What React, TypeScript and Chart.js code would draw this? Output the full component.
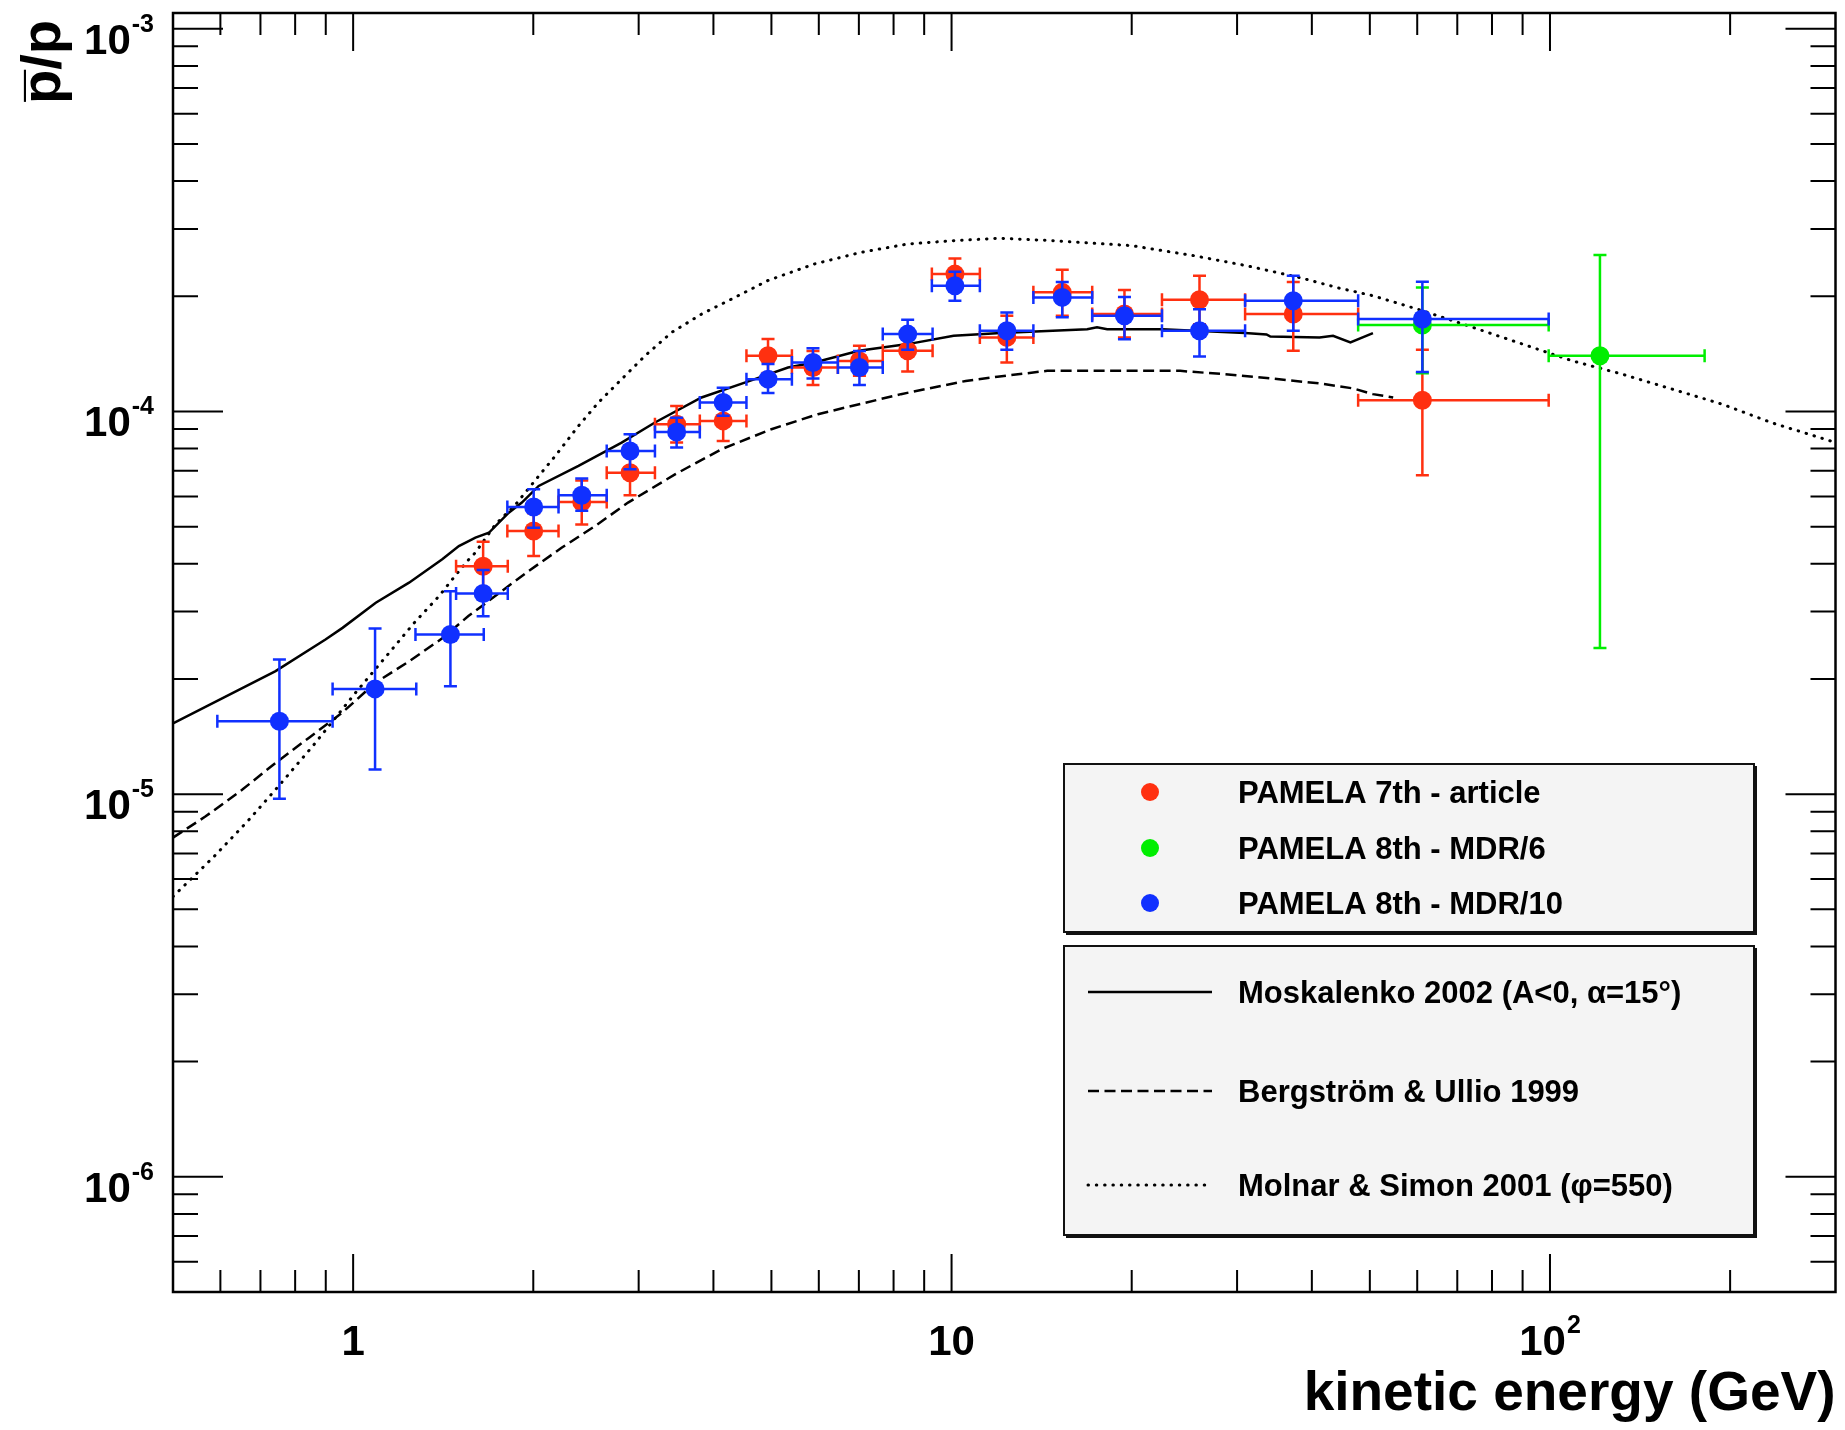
import React, { useEffect, useRef } from 'react';
import Chart from 'chart.js/auto';

// PAMELA 7th - article (kinetic energy in GeV, bin edges, ratio and its error band)
const redE = [1.649, 2.003, 2.41, 2.902, 3.472, 4.153, 4.935, 5.867, 7.015, 8.446, 10.13, 12.37, 15.31, 19.45, 25.96, 37.24, 61.2];
const redElo = [1.486, 1.81, 2.204, 2.653, 3.194, 3.796, 4.542, 5.41, 6.457, 7.674, 9.27, 11.15, 13.7, 17.18, 22.47, 30.94, 47.8];
const redEhi = [1.813, 2.204, 2.653, 3.194, 3.796, 4.542, 5.41, 6.457, 7.674, 9.296, 11.15, 13.7, 17.18, 22.47, 30.94, 47.8, 99.5];
const redY = [3.94e-5, 4.87e-5, 5.8e-5, 6.92e-5, 9.26e-5, 9.45e-5, 1.398e-4, 1.303e-4, 1.356e-4, 1.441e-4, 2.286e-4, 1.562e-4, 2.048e-4, 1.797e-4, 1.959e-4, 1.797e-4, 1.07e-4];
const redYlo = [3.45e-5, 4.19e-5, 5.07e-5, 6.04e-5, 8.3e-5, 8.37e-5, 1.26e-4, 1.172e-4, 1.24e-4, 1.272e-4, 2.08e-4, 1.343e-4, 1.78e-4, 1.56e-4, 1.69e-4, 1.441e-4, 6.81e-5];
const redYhi = [4.57e-5, 5.42e-5, 6.6e-5, 7.94e-5, 1.033e-4, 1.033e-4, 1.546e-4, 1.44e-4, 1.485e-4, 1.62e-4, 2.51e-4, 1.78e-4, 2.347e-4, 2.077e-4, 2.263e-4, 2.18e-4, 1.45e-4];

// PAMELA 8th - MDR/6
const greenE = [61.2, 121.2];
const greenElo = [47.8, 99.5];
const greenEhi = [99.5, 181.3];
const greenY = [1.683e-4, 1.398e-4];
const greenYlo = [1.259e-4, 2.408e-5];
const greenYhi = [2.109e-4, 2.566e-4];

// PAMELA 8th - MDR/10
const blueE = [0.753, 1.088, 1.454, 1.649, 2.003, 2.41, 2.902, 3.472, 4.153, 4.935, 5.867, 7.015, 8.446, 10.13, 12.37, 15.31, 19.45, 25.96, 37.24, 61.2];
const blueElo = [0.593, 0.924, 1.271, 1.486, 1.81, 2.204, 2.653, 3.194, 3.796, 4.542, 5.41, 6.457, 7.674, 9.27, 11.15, 13.7, 17.18, 22.47, 30.94, 47.8];
const blueEhi = [0.924, 1.275, 1.653, 1.813, 2.204, 2.653, 3.194, 3.796, 4.542, 5.41, 6.457, 7.674, 9.296, 11.15, 13.7, 17.18, 22.47, 30.94, 47.8, 99.5];
const blueY = [1.55e-5, 1.884e-5, 2.614e-5, 3.346e-5, 5.63e-5, 6.04e-5, 7.886e-5, 8.84e-5, 1.056e-4, 1.215e-4, 1.343e-4, 1.303e-4, 1.593e-4, 2.132e-4, 1.625e-4, 1.987e-4, 1.779e-4, 1.625e-4, 1.948e-4, 1.744e-4];
const blueYlo = [9.73e-6, 1.16e-5, 1.914e-5, 2.918e-5, 4.97e-5, 5.5e-5, 7.06e-5, 8.05e-5, 9.74e-5, 1.117e-4, 1.22e-4, 1.172e-4, 1.45e-4, 1.948e-4, 1.45e-4, 1.762e-4, 1.545e-4, 1.393e-4, 1.625e-4, 1.269e-4];
const blueYhi = [2.25e-5, 2.71e-5, 3.39e-5, 3.85e-5, 6.26e-5, 6.68e-5, 8.72e-5, 9.63e-5, 1.154e-4, 1.33e-4, 1.464e-4, 1.44e-4, 1.737e-4, 2.32e-4, 1.815e-4, 2.18e-4, 1.993e-4, 1.85e-4, 2.263e-4, 2.183e-4];

// model curves
const moskE = [0.5, 0.742, 0.899, 0.96, 1.091, 1.24, 1.409, 1.502, 1.601, 1.686, 1.82, 1.914, 2.042, 2.38, 2.81, 3.194, 3.821, 4.512, 5.33, 5.9, 7.0, 8.45, 10.08, 12.09, 16.85, 17.5, 18.2, 22.47, 30.94, 33.6, 34.1, 41.2, 43.4, 46.4, 50.6];
const moskY = [1.53e-5, 2.096e-5, 2.536e-5, 2.72e-5, 3.165e-5, 3.57e-5, 4.11e-5, 4.45e-5, 4.68e-5, 4.82e-5, 5.44e-5, 5.78e-5, 6.39e-5, 7.21e-5, 8.29e-5, 9.36e-5, 1.088e-4, 1.19e-4, 1.303e-4, 1.343e-4, 1.441e-4, 1.5e-4, 1.577e-4, 1.603e-4, 1.641e-4, 1.66e-4, 1.64e-4, 1.64e-4, 1.603e-4, 1.59e-4, 1.57e-4, 1.56e-4, 1.577e-4, 1.515e-4, 1.603e-4];
const bergE = [0.5, 0.567, 0.653, 0.742, 0.843, 0.958, 1.089, 1.238, 1.407, 1.558, 1.965, 2.233, 2.537, 2.88, 3.45, 4.126, 5.0, 5.98, 8.23, 10.56, 11.93, 14.45, 24.1, 28.5, 34.5, 41.2, 46.9, 50.6, 54.7];
const bergY = [7.7e-6, 8.75e-6, 1.028e-5, 1.207e-5, 1.403e-5, 1.631e-5, 1.954e-5, 2.22e-5, 2.55e-5, 2.92e-5, 3.83e-5, 4.41e-5, 5.02e-5, 5.78e-5, 6.85e-5, 7.97e-5, 8.99e-5, 9.84e-5, 1.11e-4, 1.202e-4, 1.233e-4, 1.277e-4, 1.277e-4, 1.252e-4, 1.218e-4, 1.184e-4, 1.149e-4, 1.11e-4, 1.088e-4];
const molE = [0.5, 0.586, 0.666, 0.742, 0.86, 1.009, 1.161, 1.264, 1.391, 1.464, 1.55, 1.601, 1.729, 1.866, 2.042, 2.176, 2.38, 2.57, 2.81, 3.074, 3.405, 3.821, 4.288, 4.935, 5.9, 7.06, 8.45, 10.08, 12.0, 14.45, 20.0, 25.4, 31.13, 38.2, 44.5, 50.6, 61.3, 74.3, 90, 109, 132, 160, 194, 235, 300];
const molY = [5.4e-6, 6.88e-6, 8.49e-6, 1.028e-5, 1.347e-5, 1.84e-5, 2.388e-5, 2.8e-5, 3.29e-5, 3.64e-5, 4.06e-5, 4.28e-5, 5.07e-5, 5.7e-5, 6.78e-5, 7.65e-5, 9.17e-5, 1.056e-4, 1.215e-4, 1.398e-4, 1.609e-4, 1.797e-4, 1.967e-4, 2.2e-4, 2.429e-4, 2.606e-4, 2.74e-4, 2.795e-4, 2.836e-4, 2.8e-4, 2.713e-4, 2.554e-4, 2.404e-4, 2.238e-4, 2.1e-4, 2.007e-4, 1.833e-4, 1.659e-4, 1.5e-4, 1.356e-4, 1.252e-4, 1.144e-4, 1.045e-4, 9.34e-5, 8.3e-5];

// axes
const xRange = [0.5, 300];
const yRange = [5e-7, 1.1e-3];
const xMajor = [1, 10, 100];
const xMajorBase = ['1', '10', '10'];
const xMajorExp = ['', '', '2'];
const yMajor = [1e-6, 1e-5, 1e-4, 1e-3];
const yMajorExp = ['-6', '-5', '-4', '-3'];

const dataLabels = ['PAMELA 7th - article', 'PAMELA 8th - MDR/6', 'PAMELA 8th - MDR/10'];
const modelLabels = ['Moskalenko 2002 (A<0, \u03b1=15\u00b0)', 'Bergstr\u00f6m & Ullio 1999', 'Molnar & Simon 2001 (\u03c6=550)'];

const RED = '#ff3010';
const GREEN = '#00ee00';
const BLUE = '#1030ff';
const FONT = '"Liberation Sans", Arial, Helvetica, sans-serif';

const points = (e: number[], lo: number[], hi: number[], y: number[], ylo: number[], yhi: number[]) =>
  e.map((x, i) => ({ x, y: y[i], xMin: lo[i], xMax: hi[i], yMin: ylo[i], yMax: yhi[i] }));

const curve = (e: number[], y: number[]) => e.map((x, i) => ({ x, y: y[i] }));

// decade minor ticks between lo and hi
const minorTicks = (lo: number, hi: number) => {
  const out: number[] = [];
  for (let d = Math.floor(Math.log10(lo)); d <= Math.ceil(Math.log10(hi)); d++) {
    for (let k = 1; k < 10; k++) {
      const v = k * Math.pow(10, d);
      if (v >= lo * 0.999 && v <= hi * 1.001) out.push(v);
    }
  }
  return out;
};

const errorBars = {
  id: 'errorBars',
  beforeDatasetDraw(chart: any, args: any) {
    const ds = chart.data.datasets[args.index];
    if (!ds.errorBars) return;
    const { ctx } = chart;
    const xs = chart.scales.x;
    const ys = chart.scales.y;
    const cap = 6.5;
    ctx.save();
    ctx.strokeStyle = ds.pointBackgroundColor;
    ctx.lineWidth = 2.5;
    ctx.beginPath();
    ds.data.forEach((p: any) => {
      const px = xs.getPixelForValue(p.x);
      const py = ys.getPixelForValue(p.y);
      const x0 = xs.getPixelForValue(p.xMin);
      const x1 = xs.getPixelForValue(p.xMax);
      const y0 = ys.getPixelForValue(p.yMin);
      const y1 = ys.getPixelForValue(p.yMax);
      ctx.moveTo(x0, py); ctx.lineTo(x1, py);
      ctx.moveTo(px, y0); ctx.lineTo(px, y1);
      ctx.moveTo(x0, py - cap); ctx.lineTo(x0, py + cap);
      ctx.moveTo(x1, py - cap); ctx.lineTo(x1, py + cap);
      ctx.moveTo(px - cap, y0); ctx.lineTo(px + cap, y0);
      ctx.moveTo(px - cap, y1); ctx.lineTo(px + cap, y1);
    });
    ctx.stroke();
    ctx.restore();
  },
};

function drawPower(ctx: CanvasRenderingContext2D, base: string, exp: string, x: number, y: number, align: 'center' | 'right') {
  ctx.font = `bold 42px ${FONT}`;
  const wb = ctx.measureText(base).width;
  ctx.font = `bold 25px ${FONT}`;
  const we = exp ? ctx.measureText(exp).width + 1 : 0;
  const x0 = align === 'center' ? x - (wb + we) / 2 : x - (wb + we);
  ctx.textAlign = 'left';
  ctx.textBaseline = 'alphabetic';
  ctx.font = `bold 42px ${FONT}`;
  ctx.fillText(base, x0, y);
  if (exp) {
    ctx.font = `bold 25px ${FONT}`;
    ctx.fillText(exp, x0 + wb + 1, y - 22);
  }
}

const rootAxes = {
  id: 'rootAxes',
  afterDatasetsDraw(chart: any) {
    const { ctx, chartArea: a } = chart;
    const xs = chart.scales.x;
    const ys = chart.scales.y;
    ctx.save();
    ctx.strokeStyle = '#000';
    ctx.lineWidth = 2;
    ctx.beginPath();
    minorTicks(xRange[0], xRange[1]).forEach((v) => {
      if (v <= xRange[0] * 1.001 || v >= xRange[1] * 0.999) return;
      const px = xs.getPixelForValue(v);
      const len = xMajor.includes(v) ? 38 : 22;
      ctx.moveTo(px, a.bottom); ctx.lineTo(px, a.bottom - len);
      ctx.moveTo(px, a.top); ctx.lineTo(px, a.top + len);
    });
    minorTicks(yRange[0], yRange[1]).forEach((v) => {
      if (v <= yRange[0] * 1.001 || v >= yRange[1] * 0.999) return;
      const py = ys.getPixelForValue(v);
      const len = yMajor.some((m) => Math.abs(m - v) / m < 1e-6) ? 50 : 25;
      ctx.moveTo(a.left, py); ctx.lineTo(a.left + len, py);
      ctx.moveTo(a.right, py); ctx.lineTo(a.right - len, py);
    });
    ctx.stroke();
    ctx.lineWidth = 2.5;
    ctx.strokeRect(a.left, a.top, a.right - a.left, a.bottom - a.top);

    ctx.fillStyle = '#000';
    xMajor.forEach((v, i) => drawPower(ctx, xMajorBase[i], xMajorExp[i], xs.getPixelForValue(v), a.bottom + 63, 'center'));
    yMajor.forEach((v, i) => drawPower(ctx, '10', yMajorExp[i], 154, ys.getPixelForValue(v) + 25, 'right'));
    ctx.restore();
  },
  afterDraw(chart: any) {
    const { ctx, chartArea: a } = chart;
    ctx.save();
    ctx.fillStyle = '#000';
    // axis titles
    ctx.font = `bold 55px ${FONT}`;
    ctx.textAlign = 'right';
    ctx.textBaseline = 'alphabetic';
    ctx.fillText('kinetic energy (GeV)', a.right, 1410);
    ctx.translate(60, 104);
    ctx.rotate(-Math.PI / 2);
    ctx.textAlign = 'left';
    ctx.font = `bold 56px ${FONT}`;
    ctx.fillText('p\u0305/p', 0, 0);
    ctx.restore();

    // legends
    const box = (x0: number, y0: number, x1: number, y1: number) => {
      ctx.fillStyle = '#f4f4f4';
      ctx.fillRect(x0, y0, x1 - x0, y1 - y0);
      ctx.strokeStyle = '#111';
      ctx.lineWidth = 2;
      ctx.strokeRect(x0, y0, x1 - x0, y1 - y0);
      ctx.beginPath();
      ctx.moveTo(x0 + 2, y1 + 2); ctx.lineTo(x1 + 2, y1 + 2); ctx.lineTo(x1 + 2, y0 + 2);
      ctx.stroke();
    };
    ctx.save();
    box(1064, 764, 1754, 932);
    box(1064, 946, 1754, 1235);
    ctx.font = `bold 31px ${FONT}`;
    ctx.textAlign = 'left';
    ctx.textBaseline = 'alphabetic';
    const rowsA = [792, 848, 903];
    dataLabels.forEach((label, i) => {
      const ds = chart.data.datasets.find((d: any) => d.label === label);
      ctx.fillStyle = ds.pointBackgroundColor;
      ctx.beginPath();
      ctx.arc(1150, rowsA[i], 9, 0, Math.PI * 2);
      ctx.fill();
      ctx.fillStyle = '#000';
      ctx.fillText(label, 1238, rowsA[i] + 11);
    });
    const rowsB = [992, 1091, 1185];
    modelLabels.forEach((label, i) => {
      const ds = chart.data.datasets.find((d: any) => d.label === label);
      ctx.strokeStyle = '#000';
      ctx.lineWidth = ds.borderWidth;
      ctx.lineCap = ds.borderCapStyle || 'butt';
      ctx.setLineDash(ds.borderDash || []);
      ctx.beginPath();
      ctx.moveTo(1088, rowsB[i]);
      ctx.lineTo(1212, rowsB[i]);
      ctx.stroke();
      ctx.setLineDash([]);
      ctx.fillStyle = '#000';
      ctx.fillText(label, 1238, rowsB[i] + 11);
    });
    ctx.restore();
  },
};

export default function App() {
  const canvasRef = useRef<HTMLCanvasElement | null>(null);

  useEffect(() => {
    if (!canvasRef.current) return;
    const marker = (label: string, color: string, data: any[], order: number) => ({
      label,
      data,
      order,
      errorBars: true,
      showLine: false,
      pointStyle: 'circle',
      pointRadius: 9.5,
      pointBorderWidth: 0,
      pointBackgroundColor: color,
      pointBorderColor: color,
    });
    const line = (label: string, data: any[], width: number, dash: number[], cap: string, order: number) => ({
      label,
      data,
      order,
      showLine: true,
      pointRadius: 0,
      borderColor: '#000',
      borderWidth: width,
      borderDash: dash,
      borderCapStyle: cap,
      tension: 0,
      fill: false,
    });

    const chart = new Chart(canvasRef.current, {
      type: 'scatter',
      data: {
        datasets: [
          marker(dataLabels[2], BLUE, points(blueE, blueElo, blueEhi, blueY, blueYlo, blueYhi), 0),
          marker(dataLabels[1], GREEN, points(greenE, greenElo, greenEhi, greenY, greenYlo, greenYhi), 1),
          marker(dataLabels[0], RED, points(redE, redElo, redEhi, redY, redYlo, redYhi), 2),
          line(modelLabels[0], curve(moskE, moskY), 2.5, [], 'butt', 3),
          line(modelLabels[1], curve(bergE, bergY), 2.5, [11, 5.5], 'butt', 4),
          line(modelLabels[2], curve(molE, molY), 3, [0.5, 7.8], 'round', 5),
        ] as any,
      },
      options: {
        animation: false,
        responsive: false,
        devicePixelRatio: 1,
        events: [],
        layout: { padding: { left: 173, top: 13, right: 9, bottom: 138 } },
        scales: {
          x: { type: 'logarithmic', min: xRange[0], max: xRange[1], bounds: 'data', display: false },
          y: { type: 'logarithmic', min: yRange[0], max: yRange[1], bounds: 'data', display: false },
        },
        plugins: {
          legend: { display: false },
          tooltip: { enabled: false },
        },
      } as any,
      plugins: [errorBars, rootAxes],
    });

    return () => chart.destroy();
  }, []);

  return (
    <div style={{ position: 'fixed', left: 0, top: 0, width: 1845, height: 1430, background: '#fff' }}>
      <canvas ref={canvasRef} width={1845} height={1430} style={{ display: 'block' }} />
    </div>
  );
}
